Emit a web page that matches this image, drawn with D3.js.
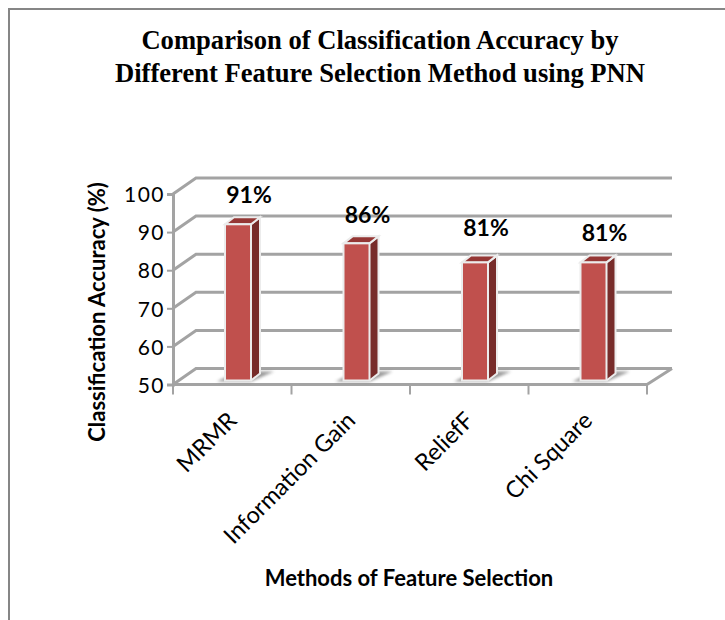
<!DOCTYPE html>
<html>
<head>
<title>Classification accuracy by feature selection method</title>
<script src="https://d3js.org/d3.v7.min.js"></script>
<style>
    html, body { margin: 0; padding: 0; background: #fff; }
    svg { display: block; }
    text { fill: #000; }
    .title { font: bold 26.6px "Liberation Serif", serif; text-anchor: middle; }
    .axis-title { font: bold 22px Lato, sans-serif; text-anchor: middle; }
    .tick-label { font: 21px Lato, sans-serif; letter-spacing: 1.5px; }
    .cat-label { font: 23.5px Lato, sans-serif; }
    .value-label { font: bold 23px Lato, sans-serif; text-anchor: middle; }
</style>
</head>
<body>
<script>
    // chart data
    var methods = ["MRMR", "Information Gain", "ReliefF", "Chi Square"];
    var accuracy = [91, 86, 81, 81];
    var yTicks = [50, 60, 70, 80, 90, 100];
    var titleLines = ["Comparison of Classification Accuracy by", "Different Feature Selection Method using PNN"];
    var yTitle = "Classification Accuracy (%)";
    var xTitle = "Methods of Feature Selection";

    // the labels do not sit at a fixed gap above the bars in the original
    var labelLift = [21, 20, 26, 21];

    var gridColor = "#a3a3a3";
    var depth = { x: 23, y: -16 };    // back wall offset
    var barDepth = { x: 9, y: -7 };   // bar side offset
    var floorLift = -4;               // bars stand in the middle of the floor

    var svg = d3.select("body").append("svg")
        .attr("width", 725)
        .attr("height", 620);

    var defs = svg.append("defs");
    defs.append("filter").attr("id", "soft")
        .attr("x", "-30%").attr("y", "-60%").attr("width", "160%").attr("height", "220%")
        .append("feGaussianBlur").attr("stdDeviation", 1.6);

    // page frame
    svg.append("path")
        .attr("d", "M9,620V9H725")
        .attr("fill", "none")
        .attr("stroke", "#868686")
        .attr("stroke-width", 2);

    svg.selectAll(".title")
        .data(titleLines)
        .enter().append("text")
        .attr("class", "title")
        .attr("x", 380)
        .attr("y", function(d, i) { return 49 + i * 33; })
        .text(function(d) { return d; });

    var x = d3.scaleBand().domain(methods).range([173, 647]);
    var y = d3.scaleLinear().domain([50, 100]).range([384.5, 194]);

    // back wall grid lines and the diagonals on the left wall
    var grid = svg.append("g")
        .attr("fill", "none")
        .attr("stroke", gridColor)
        .attr("stroke-width", 3);

    yTicks.forEach(function(t) {
        grid.append("path")
            .attr("d", d3.line()([
                [x.range()[0], y(t)],
                [x.range()[0] + depth.x, y(t) + depth.y],
                [x.range()[1] + depth.x + 2, y(t) + depth.y]
            ]));
    });

    // floor edges
    grid.append("path")
        .attr("d", d3.line()([
            [x.range()[0], y(50)],
            [x.range()[1], y(50)],
            [x.range()[1] + depth.x + 2, y(50) + depth.y]
        ]));

    // axes, the library draws ticks and lines
    var yAxis = svg.append("g")
        .attr("transform", "translate(" + x.range()[0] + ",0)")
        .call(d3.axisLeft(y).tickValues(yTicks).tickSize(6).tickPadding(2));

    yAxis.select(".domain").attr("stroke", gridColor).attr("stroke-width", 3);
    yAxis.selectAll("line").attr("stroke", gridColor).attr("stroke-width", 2);
    yAxis.selectAll("text")
        .attr("class", "tick-label")
        .attr("fill", "#000")
        .attr("y", 1);

    var xAxis = svg.append("g")
        .attr("transform", "translate(0," + y(50) + ")")
        .call(d3.axisBottom(x).tickFormat("").tickSize(0));

    xAxis.select(".domain").attr("stroke", "none");
    xAxis.selectAll(".tick").remove();

    // tick marks sit between the categories
    methods.concat([null]).forEach(function(m) {
        var px = m === null ? x.range()[1] : x(m);
        xAxis.append("line")
            .attr("x1", px).attr("x2", px)
            .attr("y1", 0).attr("y2", 10)
            .attr("stroke", gridColor)
            .attr("stroke-width", 2);
    });

    // bars
    var barWidth = 26;
    var barLeft = function(d) { return x(d) + 52; };

    var bars = svg.selectAll(".bar")
        .data(methods)
        .enter().append("g")
        .attr("class", "bar");

    bars.append("path")
        .attr("d", function(d) {
            var l = barLeft(d), b = y(50) + floorLift;
            return d3.line()([[l - 8, b + 1], [l + barWidth, b + 1], [l + barWidth + 23, b - 9], [l + 12, b - 9]]);
        })
        .attr("fill", "#808080")
        .attr("opacity", 0.8)
        .attr("filter", "url(#soft)");

    // side face
    bars.append("path")
        .attr("d", function(d, i) {
            var l = barLeft(d) + barWidth, t = y(accuracy[i]) + floorLift, b = y(50) + floorLift;
            return d3.line()([[l, t], [l + barDepth.x, t + barDepth.y], [l + barDepth.x, b + barDepth.y], [l, b]]);
        })
        .attr("fill", "#772c2a")
        .attr("stroke", "#ececec")
        .attr("stroke-width", 2);

    // top face
    bars.append("path")
        .attr("d", function(d, i) {
            var l = barLeft(d), t = y(accuracy[i]) + floorLift;
            return d3.line()([[l, t], [l + barDepth.x, t + barDepth.y], [l + barWidth + barDepth.x, t + barDepth.y], [l + barWidth, t]]) + "Z";
        })
        .attr("fill", "#953735")
        .attr("stroke", "#ececec")
        .attr("stroke-width", 2);

    // front face
    bars.append("rect")
        .attr("x", barLeft)
        .attr("y", function(d, i) { return y(accuracy[i]) + floorLift; })
        .attr("width", barWidth)
        .attr("height", function(d, i) { return y(50) - y(accuracy[i]); })
        .attr("fill", "#c0504d")
        .attr("stroke", "#ececec")
        .attr("stroke-width", 2);

    // value labels
    svg.selectAll(".value-label")
        .data(methods)
        .enter().append("text")
        .attr("class", "value-label")
        .attr("x", function(d) { return barLeft(d) + barWidth - 2; })
        .attr("y", function(d, i) { return y(accuracy[i]) + floorLift - labelLift[i]; })
        .text(function(d, i) { return accuracy[i] + "%"; });

    // category labels at 45 degrees
    svg.selectAll(".cat-label")
        .data(methods)
        .enter().append("text")
        .attr("class", "cat-label")
        .attr("text-anchor", "end")
        .attr("transform", function(d) {
            return "translate(" + (x(d) + x.bandwidth() / 2 + 6) + ",422) rotate(-45)";
        })
        .text(function(d) { return d; });

    // axis titles
    svg.append("text")
        .attr("class", "axis-title")
        .attr("transform", "translate(105,312) rotate(-90)")
        .text(yTitle);

    svg.append("text")
        .attr("class", "axis-title")
        .attr("x", 409)
        .attr("y", 586)
        .text(xTitle);
</script>
</body>
</html>
